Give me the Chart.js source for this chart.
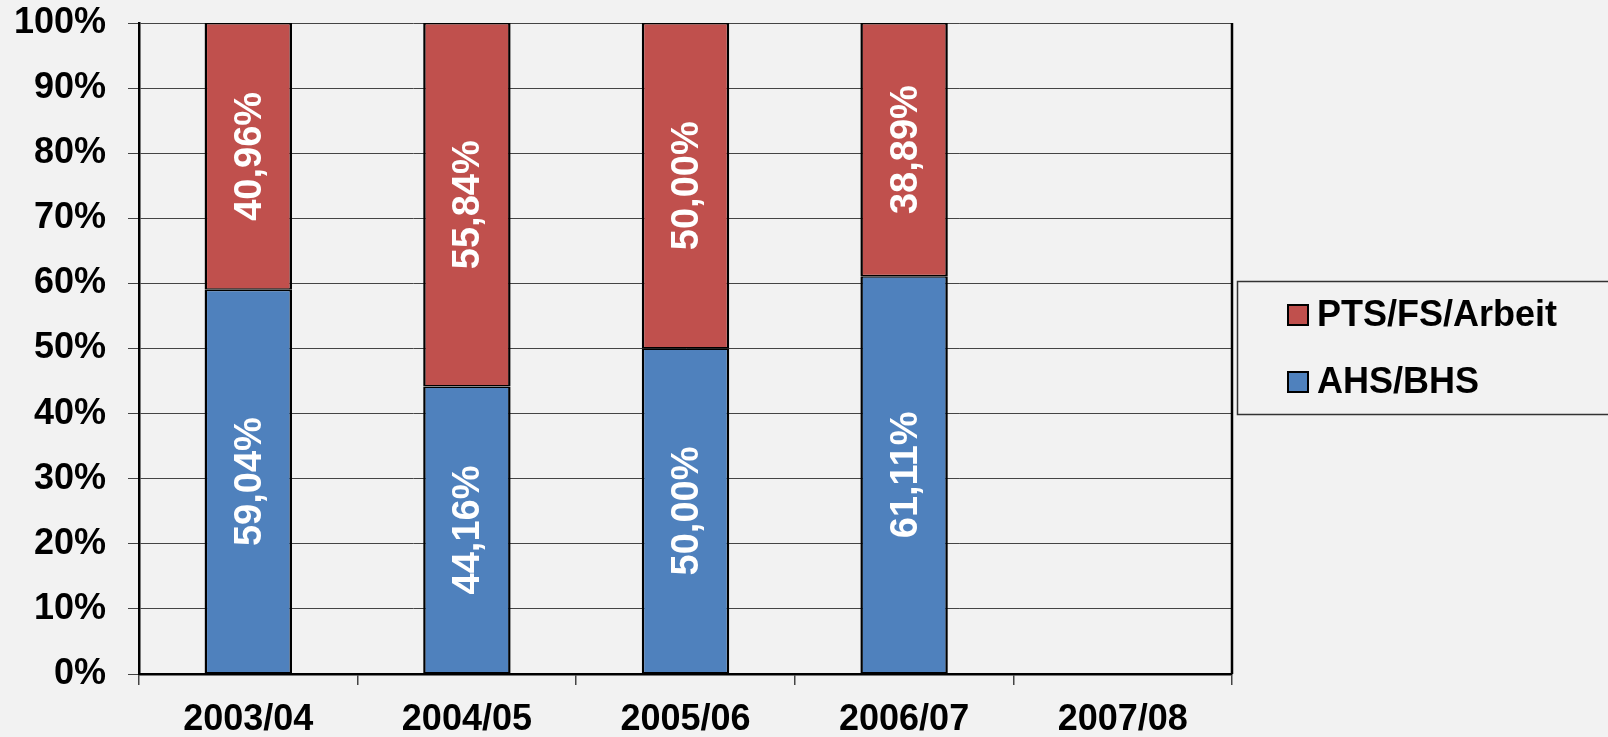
<!DOCTYPE html>
<html>
<head>
<meta charset="utf-8">
<script src="https://cdn.jsdelivr.net/npm/chart.js@4/dist/chart.umd.min.js"></script>
<style>
  html, body { margin: 0; padding: 0; background: #f2f2f2; }
  #wrap { width: 1608px; height: 737px; position: relative; }
</style>
</head>
<body>
<div id="wrap"><canvas id="chart"></canvas></div>
<script>
// Schuljahre
const years = ['2003/04', '2004/05', '2005/06', '2006/07', '2007/08'];
// Anteile in Prozent
const ahsBhs = [59.04, 44.16, 50.00, 61.11, null];
const ptsFsArbeit = [40.96, 55.84, 50.00, 38.89, null];
const yTicks = [0, 10, 20, 30, 40, 50, 60, 70, 80, 90, 100];

const FONT = "'Liberation Sans', Arial, sans-serif";

// Werte in die Balken schreiben (gedreht, weiss)
const barLabels = {
    id: 'barLabels',
    afterDatasetsDraw(chart) {
        const ctx = chart.ctx;
        ctx.save();
        ctx.font = 'bold 38px ' + FONT;
        ctx.fillStyle = '#ffffff';
        ctx.textAlign = 'center';
        ctx.textBaseline = 'middle';
        chart.data.datasets.forEach((ds, i) => {
            const meta = chart.getDatasetMeta(i);
            meta.data.forEach((bar, j) => {
                const v = ds.data[j];
                if (v == null) return;
                const p = bar.getProps(['x', 'y', 'base'], true);
                const cy = (p.y + p.base) / 2;
                ctx.save();
                ctx.translate(p.x, cy);
                ctx.rotate(-Math.PI / 2);
                ctx.fillText(v.toFixed(2).replace('.', ',') + '%', 0, 2);
                ctx.restore();
            });
        });
        ctx.restore();
    }
};

// rechter Rahmen + Legende im Kasten
const frameLegend = {
    id: 'frameLegend',
    afterDraw(chart) {
        const ctx = chart.ctx;
        const a = chart.chartArea;
        ctx.save();
        ctx.strokeStyle = '#000';
        ctx.lineWidth = 2.5;
        ctx.beginPath();
        ctx.moveTo(a.right, a.top);
        ctx.lineTo(a.right, a.bottom);
        ctx.stroke();

        ctx.lineWidth = 1.5;
        ctx.strokeStyle = '#333';
        ctx.strokeRect(1237.5, 281.5, 400, 133);

        const items = chart.data.datasets.slice().reverse();
        ctx.font = 'bold 36px ' + FONT;
        ctx.textBaseline = 'middle';
        ctx.textAlign = 'left';
        items.forEach((ds, k) => {
            const cy = 315 + k * 67;
            ctx.fillStyle = ds.backgroundColor;
            ctx.fillRect(1288, cy - 10, 20, 20);
            ctx.lineWidth = 2;
            ctx.strokeStyle = '#000';
            ctx.strokeRect(1288, cy - 10, 20, 20);
            ctx.fillStyle = '#000';
            ctx.fillText(ds.label, 1317, cy + 1);
        });
        ctx.restore();
    }
};

const segBorder = { top: 1.5, bottom: 1.5, left: 2.5, right: 2.5 };

new Chart(document.getElementById('chart'), {
    type: 'bar',
    data: {
        labels: years,
        datasets: [
            {
                label: 'AHS/BHS',
                data: ahsBhs,
                backgroundColor: '#4f81bd',
                borderColor: '#000',
                borderWidth: segBorder,
                borderSkipped: false
            },
            {
                label: 'PTS/FS/Arbeit',
                data: ptsFsArbeit,
                backgroundColor: '#c0504d',
                borderColor: '#000',
                borderWidth: segBorder,
                borderSkipped: false
            }
        ]
    },
    options: {
        responsive: true,
        maintainAspectRatio: false,
        animation: false,
        layout: { padding: { top: 23, right: 376, left: 0, bottom: 0 } },
        plugins: {
            legend: { display: false },
            tooltip: { enabled: false }
        },
        datasets: {
            bar: { categoryPercentage: 1, barPercentage: 0.4 }
        },
        scales: {
            x: {
                stacked: true,
                offset: true,
                grid: {
                    offset: true,
                    drawOnChartArea: false,
                    tickLength: 11,
                    color: '#444',
                    lineWidth: 1.5
                },
                border: { color: '#000', width: 2.5 },
                ticks: {
                    color: '#000',
                    padding: 13,
                    font: { family: FONT, size: 36, weight: 'bold' }
                },
                afterFit(s) { s.height = 63; s.paddingLeft = 0; s.paddingRight = 0; }
            },
            y: {
                stacked: true,
                min: 0,
                max: 100,
                afterBuildTicks(s) { s.ticks = yTicks.map(v => ({ value: v })); },
                grid: {
                    tickLength: 11,
                    color: '#444',
                    lineWidth: 1
                },
                border: { color: '#000', width: 2.5 },
                ticks: {
                    color: '#000',
                    padding: 22,
                    font: { family: FONT, size: 36, weight: 'bold' },
                    callback: v => v + '%'
                },
                afterFit(s) { s.width = 139; s.paddingTop = 0; s.paddingBottom = 0; }
            }
        }
    },
    plugins: [barLabels, frameLegend]
});
</script>
</body>
</html>
